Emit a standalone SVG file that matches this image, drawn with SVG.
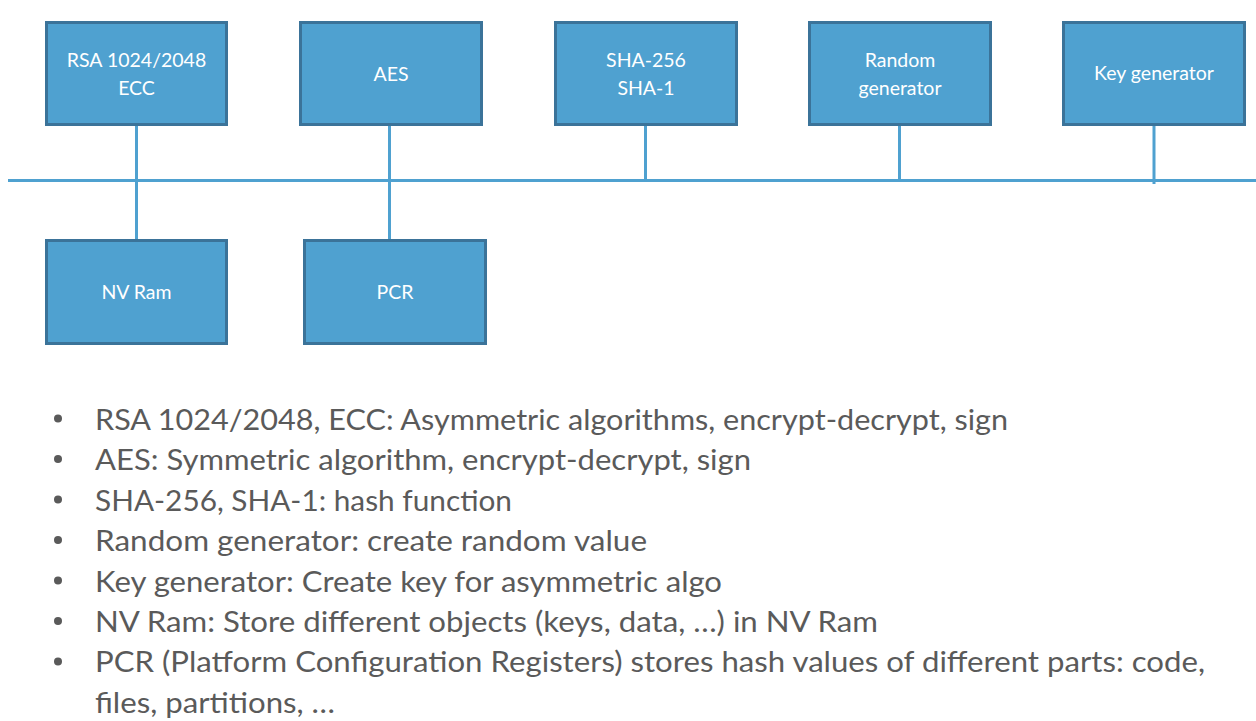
<svg xmlns="http://www.w3.org/2000/svg" width="1256" height="721" viewBox="0 0 1256 721">
<style>
.box{fill:#4fa1d0;stroke:#3b7399;stroke-width:3}
.lbl{font-family:Lato,"Open Sans","Liberation Sans",sans-serif;font-size:19.5px;fill:#ffffff;text-anchor:middle}
.wire{stroke:#4fa1d0;stroke-width:3;fill:none}
.bt{font-family:Lato,"Open Sans","Liberation Sans",sans-serif;font-size:29px;fill:#5a5a5a}
.dot{fill:#5a5a5a}
</style>
<rect width="1256" height="721" fill="#ffffff"/>
<g id="connectors">
<line class="wire" x1="8" y1="180.5" x2="1256" y2="180.5"/>
<line class="wire" x1="136.5" y1="125" x2="136.5" y2="240"/>
<line class="wire" x1="389.5" y1="125" x2="389.5" y2="240"/>
<line class="wire" x1="645.5" y1="125" x2="645.5" y2="182"/>
<line class="wire" x1="899.5" y1="125" x2="899.5" y2="182"/>
<line class="wire" x1="1154" y1="125" x2="1154" y2="184"/>
</g>
<g id="rsa"><rect class="box" x="46.5" y="22.5" width="180" height="102"/><text class="lbl" x="136.5" y="66.5">RSA 1024/2048</text><text class="lbl" x="136.5" y="94.5">ECC</text></g>
<g id="aes"><rect class="box" x="300.5" y="22.5" width="181" height="102"/><text class="lbl" x="391" y="80.5">AES</text></g>
<g id="sha"><rect class="box" x="555.5" y="22.5" width="181" height="102"/><text class="lbl" x="646" y="66.5">SHA-256</text><text class="lbl" x="646" y="94.5">SHA-1</text></g>
<g id="random"><rect class="box" x="809.5" y="22.5" width="181" height="102"/><text class="lbl" x="900" y="66.5">Random</text><text class="lbl" x="900" y="94.5">generator</text></g>
<g id="keygen"><rect class="box" x="1063.5" y="22.5" width="181" height="102"/><text class="lbl" x="1154" y="80">Key generator</text></g>
<g id="nvram"><rect class="box" x="46.5" y="240.5" width="180" height="103"/><text class="lbl" x="136.5" y="299">NV Ram</text></g>
<g id="pcr"><rect class="box" x="304.5" y="240.5" width="181" height="103"/><text class="lbl" x="395" y="299">PCR</text></g>
<g id="bullets">
<circle class="dot" cx="58" cy="418.5" r="4"/>
<circle class="dot" cx="58" cy="459" r="4"/>
<circle class="dot" cx="58" cy="499.5" r="4"/>
<circle class="dot" cx="58" cy="540" r="4"/>
<circle class="dot" cx="58" cy="580.5" r="4"/>
<circle class="dot" cx="58" cy="621" r="4"/>
<circle class="dot" cx="58" cy="661.5" r="4"/>
<text class="bt" x="95" y="430" textLength="913" lengthAdjust="spacingAndGlyphs">RSA 1024/2048, ECC: Asymmetric algorithms, encrypt-decrypt, sign</text>
<text class="bt" x="95" y="470.4" textLength="656" lengthAdjust="spacingAndGlyphs">AES: Symmetric algorithm, encrypt-decrypt, sign</text>
<text class="bt" x="95" y="510.8" textLength="417" lengthAdjust="spacingAndGlyphs">SHA-256, SHA-1: hash function</text>
<text class="bt" x="95" y="551.2" textLength="552" lengthAdjust="spacingAndGlyphs">Random generator: create random value</text>
<text class="bt" x="95" y="591.6" textLength="627" lengthAdjust="spacingAndGlyphs">Key generator: Create key for asymmetric algo</text>
<text class="bt" x="95" y="632" textLength="783" lengthAdjust="spacingAndGlyphs">NV Ram: Store different objects (keys, data, …) in NV Ram</text>
<text class="bt" x="95" y="672.4" textLength="1110" lengthAdjust="spacingAndGlyphs">PCR (Platform Configuration Registers) stores hash values of different parts: code,</text>
<text class="bt" x="95" y="712.8" textLength="240" lengthAdjust="spacingAndGlyphs">files, partitions, …</text>
</g>
</svg>
